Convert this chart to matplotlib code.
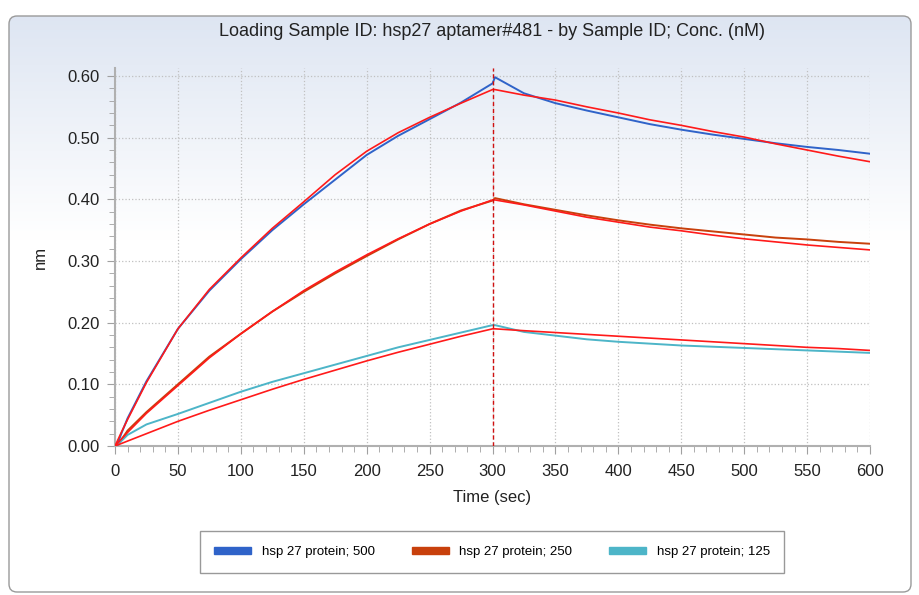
import numpy as np
import matplotlib.pyplot as plt
from matplotlib.patches import FancyBboxPatch
from matplotlib.ticker import MultipleLocator

plt.rcParams['font.family'] = ['Liberation Sans', 'DejaVu Sans']

# time points (sec)
t = [0, 5, 10, 25, 50, 75, 100, 125, 150, 175, 200, 225, 250, 275, 300,
     302, 325, 350, 375, 400, 425, 450, 475, 500, 525, 550, 575, 600]

# measured responses (nm)
y_500 = [-0.008, 0.02, 0.045, 0.105, 0.19, 0.252, 0.303, 0.35, 0.392, 0.432, 0.472,
         0.503, 0.53, 0.557, 0.588, 0.598, 0.572, 0.556, 0.544, 0.533, 0.522,
         0.513, 0.505, 0.498, 0.491, 0.485, 0.480, 0.474]
y_250 = [-0.004, 0.01, 0.025, 0.055, 0.10, 0.145, 0.182, 0.218, 0.25, 0.28, 0.308,
         0.335, 0.36, 0.382, 0.398, 0.402, 0.392, 0.383, 0.374, 0.366, 0.359,
         0.353, 0.348, 0.343, 0.338, 0.335, 0.331, 0.328]
y_125 = [-0.004, 0.008, 0.018, 0.035, 0.052, 0.07, 0.088, 0.104, 0.118, 0.132, 0.146,
         0.16, 0.172, 0.184, 0.196, 0.196, 0.185, 0.179, 0.173, 0.169, 0.166,
         0.163, 0.161, 0.159, 0.157, 0.155, 0.153, 0.151]

# fitted curves (nm)
fit_500 = [0.0, 0.022, 0.043, 0.103, 0.19, 0.254, 0.305, 0.353, 0.396, 0.44, 0.478,
           0.508, 0.533, 0.556, 0.578, 0.578, 0.569, 0.561, 0.55, 0.54, 0.529,
           0.52, 0.51, 0.501, 0.49, 0.48, 0.47, 0.461]
fit_250 = [0.0, 0.011, 0.022, 0.053, 0.098, 0.143, 0.182, 0.218, 0.252, 0.282, 0.31,
           0.336, 0.36, 0.381, 0.399, 0.399, 0.391, 0.381, 0.371, 0.363, 0.355,
           0.349, 0.342, 0.336, 0.331, 0.326, 0.322, 0.318]
fit_125 = [0.0, 0.004, 0.008, 0.02, 0.04, 0.058, 0.075, 0.092, 0.108, 0.123, 0.138,
           0.152, 0.165, 0.178, 0.19, 0.19, 0.187, 0.184, 0.181, 0.178, 0.175,
           0.172, 0.169, 0.166, 0.163, 0.16, 0.158, 0.155]

labels = ['hsp 27 protein; 500', 'hsp 27 protein; 250', 'hsp 27 protein; 125']
colors = ['#2f63c9', '#c8400c', '#4db5c8']
fit_color = '#ff1a1a'
step_time = 300

fig = plt.figure(figsize=(9.19, 5.95), dpi=100)

# background panel with gradient
bg = fig.add_axes([0, 0, 1, 1])
bg.set_xlim(0, 919)
bg.set_ylim(595, 0)
bg.axis('off')
frame = FancyBboxPatch((9, 16), 902, 576, boxstyle='round,pad=0,rounding_size=8',
                       facecolor='none', edgecolor='#9a9a9a', lw=1.0, transform=bg.transData)
grad = np.linspace(0, 1, 256).reshape(-1, 1)
grad = np.clip(grad * 2.6, 0, 1)
top = np.array([0.87, 0.90, 0.95])
img = top[None, None, :] * (1 - grad[..., None]) + np.ones(3)[None, None, :] * grad[..., None]
im = bg.imshow(img, extent=[9, 911, 592, 16], aspect='auto', origin='upper', zorder=0)
im.set_clip_path(frame)
bg.add_patch(frame)

ax = fig.add_axes([115 / 919, 149 / 595, 755 / 919, 378 / 595])
ax.patch.set_alpha(0)

for y, c, lab in zip([y_500, y_250, y_125], colors, labels):
    ax.plot(t, y, color=c, lw=1.4, label=lab, zorder=3)
for f in [fit_500, fit_250, fit_125]:
    ax.plot(t, f, color=fit_color, lw=1.2, zorder=4)

ax.axvline(step_time, color='#d01010', lw=1.0, ls=(0, (3, 2)), zorder=5)

ax.set_xlim(0, 600)
ax.set_ylim(0, 0.613)
ax.xaxis.set_major_locator(MultipleLocator(50))
ax.xaxis.set_minor_locator(MultipleLocator(10))
ax.yaxis.set_major_locator(MultipleLocator(0.1))
ax.yaxis.set_minor_locator(MultipleLocator(0.02))
ax.yaxis.set_major_formatter(plt.FormatStrFormatter('%.2f'))
ax.grid(True, which='major', color='#c0c0c0', ls=':', lw=0.9)
for s in ['top', 'right']:
    ax.spines[s].set_visible(False)
for s in ['left', 'bottom']:
    ax.spines[s].set_color('#b0b0b0')
    ax.spines[s].set_linewidth(1.5)
ax.tick_params(which='both', colors='#a0a0a0', labelcolor='#222222', labelsize=12)
ax.tick_params(which='major', length=6, pad=5)
ax.tick_params(axis='x', which='major', pad=7)
ax.tick_params(which='minor', length=4)
ax.set_xlabel('Time (sec)', fontsize=12, color='#222222', labelpad=8)
ax.set_ylabel('nm', fontsize=12, color='#222222', labelpad=14)

fig.text(492 / 919, 1 - 32 / 595, 'Loading Sample ID: hsp27 aptamer#481 - by Sample ID; Conc. (nM)',
         ha='center', va='center', fontsize=13, color='#222222')

handles = [plt.Rectangle((0, 0), 1, 1, color=c) for c in colors]
leg = fig.legend(handles, labels, loc='center', bbox_to_anchor=(492 / 919, 1 - 552 / 595),
                 ncol=3, fontsize=9.5, frameon=True, fancybox=False, edgecolor='#808080',
                 handlelength=2.8, handleheight=0.5, columnspacing=2.8, borderpad=1.1,
                 handletextpad=0.8)
leg.get_frame().set_linewidth(1.0)

fig.savefig('out.png', dpi=100)
